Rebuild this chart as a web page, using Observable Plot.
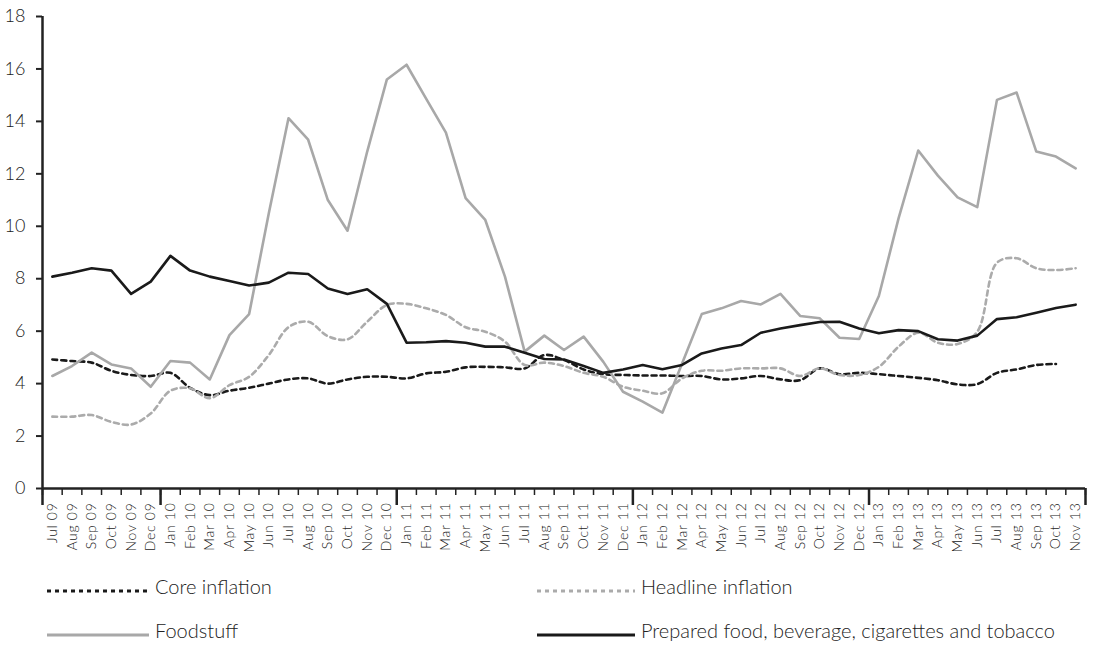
<!DOCTYPE html>
<html>
<head>
<meta charset="utf-8">
<script src="https://cdn.jsdelivr.net/npm/d3@7"></script>
<script src="https://cdn.jsdelivr.net/npm/@observablehq/plot@0.6"></script>
<style>
  html, body { margin: 0; padding: 0; background: #fff; overflow: hidden; }
  #chart { position: relative; width: 1105px; height: 645px; font-family: Lato, "Open Sans", sans-serif; color: #222; }
  #chart svg text { font-weight: 300; }
  #chart svg g[aria-label="x-axis tick label"] text { letter-spacing: 0.7px; }
  #legend { position: absolute; left: 0; top: 555px; width: 1105px; height: 90px; }
  .item { position: absolute; height: 28px; font-size: 20px; font-weight: 300; line-height: 28px; white-space: nowrap; }
  .item svg { position: absolute; left: 0; top: 16px; }
  .item span { position: absolute; top: 0; }
</style>
</head>
<body>
<div id="chart"></div>
<script>
const months = ["Jul 09","Aug 09","Sep 09","Oct 09","Nov 09","Dec 09",
  "Jan 10","Feb 10","Mar 10","Apr 10","May 10","Jun 10","Jul 10","Aug 10","Sep 10","Oct 10","Nov 10","Dec 10",
  "Jan 11","Feb 11","Mar 11","Apr 11","May 11","Jun 11","Jul 11","Aug 11","Sep 11","Oct 11","Nov 11","Dec 11",
  "Jan 12","Feb 12","Mar 12","Apr 12","May 12","Jun 12","Jul 12","Aug 12","Sep 12","Oct 12","Nov 12","Dec 12",
  "Jan 13","Feb 13","Mar 13","Apr 13","May 13","Jun 13","Jul 13","Aug 13","Sep 13","Oct 13","Nov 13"];

const coreInflation = [4.92,4.86,4.80,4.49,4.33,4.29,4.41,3.84,3.56,3.73,3.84,4.0,4.16,4.2,4.0,4.16,4.26,4.26,
  4.2,4.39,4.45,4.62,4.64,4.62,4.58,5.09,4.90,4.54,4.36,4.33,4.31,4.31,4.29,4.29,4.16,4.2,
  4.29,4.16,4.13,4.58,4.36,4.41,4.36,4.29,4.22,4.13,3.97,3.98,4.41,4.54,4.71,4.75,null];

const headlineInflation = [2.74,2.74,2.8,2.54,2.44,2.86,3.73,3.82,3.44,3.94,4.26,5.09,6.15,6.36,5.81,5.69,6.36,7.0,
  7.04,6.87,6.62,6.15,5.98,5.6,4.71,4.8,4.67,4.41,4.26,3.88,3.73,3.63,4.2,4.49,4.49,4.58,
  4.58,4.58,4.29,4.58,4.33,4.33,4.64,5.41,5.94,5.56,5.51,5.98,8.61,8.78,8.4,8.33,8.4];

const foodstuff = [4.29,4.67,5.18,4.73,4.58,3.88,4.86,4.80,4.16,5.85,6.65,10.5,14.12,13.3,11.0,9.83,12.85,15.6,
  16.16,14.86,13.57,11.07,10.24,8.08,5.22,5.83,5.28,5.79,4.83,3.69,3.31,2.89,4.77,6.65,6.87,7.15,
  7.02,7.42,6.58,6.49,5.75,5.70,7.34,10.3,12.89,11.93,11.1,10.73,14.82,15.1,12.85,12.66,12.21];

const preparedFood = [8.08,8.23,8.40,8.31,7.42,7.89,8.87,8.31,8.08,7.91,7.74,7.85,8.23,8.18,7.63,7.42,7.60,7.04,
  5.56,5.58,5.62,5.56,5.41,5.41,5.18,4.94,4.92,4.67,4.41,4.54,4.71,4.55,4.71,5.15,5.34,5.47,
  5.94,6.1,6.23,6.35,6.36,6.1,5.92,6.04,6.0,5.69,5.64,5.83,6.46,6.53,6.7,6.88,7.01];

const yTicks = [0,2,4,6,8,10,12,14,16,18];

const seriesNames = ["Core inflation", "Headline inflation", "Foodstuff", "Prepared food, beverage, cigarettes and tobacco"];
const seriesValues = [coreInflation, headlineInflation, foodstuff, preparedFood];
const seriesStyle = [
  {stroke: "#1a1a1a", dash: "5,4", curve: "catmull-rom"},
  {stroke: "#ababab", dash: "5,4", curve: "catmull-rom"},
  {stroke: "#a8a8a8", dash: null, curve: "linear"},
  {stroke: "#1a1a1a", dash: null, curve: "linear"}
];

const idx = d3.range(months.length);
const boundaries = d3.range(-0.5, months.length, 1);
const yearBounds = [-0.5, ...idx.filter(i => i > 0 && months[i].startsWith("Jan")).map(i => i - 0.5), months.length - 0.5];

const lineMarks = seriesValues.map((vals, k) => {
  const data = idx.map(i => ({i, v: vals[i]}));
  const s = seriesStyle[k];
  return Plot.line(data, {
    x: "i", y: "v", stroke: s.stroke, strokeWidth: 2.6,
    strokeDasharray: s.dash || undefined, curve: s.curve
  });
});

const chart = Plot.plot({
  width: 1105,
  height: 555,
  marginLeft: 42,
  marginRight: 20,
  marginTop: 16,
  marginBottom: 67,
  style: {fontFamily: "Lato, 'Open Sans', sans-serif", color: "#222", background: "#fff"},
  x: {domain: [-0.5, months.length - 0.5]},
  y: {domain: [0, 18]},
  marks: [
    Plot.axisY({ticks: yTicks, tickSize: 6, tickPadding: 11, fontSize: 18, label: null, strokeWidth: 2}),
    Plot.axisX({ticks: idx, tickFormat: i => months[i], tickRotate: -90, tickSize: 0, tickPadding: 14, fontSize: 14, label: null}),
    Plot.axisX({ticks: boundaries, tickFormat: () => "", tickSize: 7, label: null, strokeWidth: 1.5}),
    Plot.axisX({ticks: yearBounds, tickFormat: () => "", tickSize: 17, label: null, strokeWidth: 2.5}),
    Plot.ruleY([0], {stroke: "#222", strokeWidth: 2.5}),
    Plot.ruleX([-0.5], {stroke: "#222", strokeWidth: 2.5}),
    ...lineMarks
  ]
});

const root = document.getElementById("chart");
root.appendChild(chart);

const legend = document.createElement("div");
legend.id = "legend";
const positions = [[47, 17], [537, 17], [47, 61], [537, 61]];
seriesNames.forEach((name, k) => {
  const s = seriesStyle[k];
  const item = document.createElement("div");
  item.className = "item";
  item.style.left = positions[k][0] + "px";
  item.style.top = positions[k][1] + "px";
  const w = k % 2 === 0 ? 102 : 98;
  item.innerHTML = `<svg width="${w}" height="6"><line x1="0" y1="3" x2="${w}" y2="3" stroke="${s.stroke}" stroke-width="3" ${s.dash ? `stroke-dasharray="4,4"` : ""}/></svg><span style="left:${w + 6}px">${name}</span>`;
  legend.appendChild(item);
});
root.appendChild(legend);
</script>
</body>
</html>
